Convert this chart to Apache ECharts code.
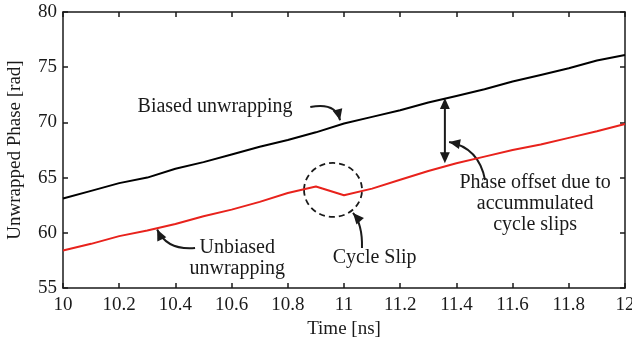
<!DOCTYPE html>
<html>
<head>
<meta charset="utf-8">
<script src="https://cdn.jsdelivr.net/npm/echarts@6/dist/echarts.min.js"></script>
<style>
  html, body { margin: 0; padding: 0; background: #fff; }
  #chart { width: 632px; height: 347px; }
</style>
</head>
<body>
<div id="chart"></div>
<script>
// time samples [ns]
const times = [10.0, 10.1, 10.2, 10.3, 10.4, 10.5, 10.6, 10.7, 10.8, 10.9, 11.0,
               11.1, 11.2, 11.3, 11.4, 11.5, 11.6, 11.7, 11.8, 11.9, 12.0];
// biased unwrapping (black)
const biased = [63.1, 63.8, 64.5, 65.0, 65.8, 66.4, 67.1, 67.8, 68.4, 69.1, 69.9,
                70.5, 71.1, 71.8, 72.4, 73.0, 73.7, 74.3, 74.9, 75.6, 76.1];
// unbiased unwrapping (red)
const unbiased = [58.4, 59.0, 59.7, 60.2, 60.8, 61.5, 62.1, 62.8, 63.6, 64.2, 63.4,
                  64.0, 64.8, 65.6, 66.3, 66.9, 67.5, 68.0, 68.6, 69.2, 69.85];

const FONT = "'Liberation Serif', 'DejaVu Serif', serif";
const INK = '#1a1a1a';

const chart = echarts.init(document.getElementById('chart'));

const tickStyle = { show: true, inside: true, length: 5, lineStyle: { color: INK, width: 1.5 } };
const lineStyle = { show: true, lineStyle: { color: INK, width: 1.5 } };

const option = {
  animation: false,
  grid: { left: 63, right: 7, top: 12, bottom: 59, outerBoundsMode: 'none', containLabel: false },
  xAxis: [
    {
      type: 'value', min: 10, max: 12, interval: 0.2,
      name: 'Time [ns]', nameLocation: 'middle', nameGap: 32,
      nameTextStyle: { fontFamily: FONT, fontSize: 19, color: INK },
      axisLine: lineStyle, axisTick: tickStyle, splitLine: { show: false },
      axisLabel: { fontFamily: FONT, fontSize: 19, color: INK, margin: 8 }
    },
    {
      type: 'value', min: 10, max: 12, interval: 0.2, position: 'top',
      axisLine: lineStyle, axisTick: tickStyle, splitLine: { show: false },
      axisLabel: { show: false }
    }
  ],
  yAxis: [
    {
      type: 'value', min: 55, max: 80, interval: 5,
      name: 'Unwrapped Phase [rad]', nameLocation: 'middle', nameGap: 38,
      nameTextStyle: { fontFamily: FONT, fontSize: 19, color: INK },
      axisLine: lineStyle, axisTick: tickStyle, splitLine: { show: false },
      axisLabel: { fontFamily: FONT, fontSize: 19, color: INK, margin: 6 }
    },
    {
      type: 'value', min: 55, max: 80, interval: 5, position: 'right',
      axisLine: lineStyle, axisTick: tickStyle, splitLine: { show: false },
      axisLabel: { show: false }
    }
  ],
  series: [
    {
      name: 'Biased', type: 'line', symbol: 'none',
      data: times.map((t, i) => [t, biased[i]]),
      lineStyle: { color: '#000', width: 2 }
    },
    {
      name: 'Unbiased', type: 'line', symbol: 'none',
      data: times.map((t, i) => [t, unbiased[i]]),
      lineStyle: { color: '#e8221c', width: 2 }
    }
  ]
};
chart.setOption(option);

// annotations, placed in data coordinates
function px(t, v) {
  return chart.convertToPixel({ xAxisIndex: 0, yAxisIndex: 0 }, [t, v]);
}

function head(tip, from, size) {
  const dx = tip[0] - from[0], dy = tip[1] - from[1];
  const len = Math.sqrt(dx * dx + dy * dy) || 1;
  const ux = dx / len, uy = dy / len;
  const bx = tip[0] - ux * size, by = tip[1] - uy * size;
  const w = size * 0.45;
  return {
    type: 'polygon',
    shape: { points: [tip, [bx - uy * w, by + ux * w], [bx + uy * w, by - ux * w]] },
    style: { fill: INK }
  };
}

function curvedArrow(a, c, b) {
  const p1 = px(a[0], a[1]), pc = px(c[0], c[1]), p2 = px(b[0], b[1]);
  return [
    {
      type: 'bezierCurve',
      shape: { x1: p1[0], y1: p1[1], x2: p2[0], y2: p2[1], cpx1: pc[0], cpy1: pc[1] },
      style: { stroke: INK, lineWidth: 2, fill: null }
    },
    head(p2, pc, 11)
  ];
}

function label(t, v, text) {
  const p = px(t, v);
  return {
    type: 'text', x: p[0], y: p[1],
    style: {
      text: text, fontFamily: FONT, fontSize: 20, fill: INK,
      align: 'center', verticalAlign: 'middle', lineHeight: 21
    }
  };
}

function drawNotes() {
  const els = [];
  els.push(label(10.541, 71.39, 'Biased unwrapping'));
  els.push(...curvedArrow([10.88, 71.39], [10.97, 71.85], [10.986, 70.2]));

  els.push(label(10.62, 57.7, 'Unbiased\nunwrapping'));
  els.push(...curvedArrow([10.47, 58.62], [10.37, 58.4], [10.335, 60.3]));

  els.push(label(11.109, 57.75, 'Cycle Slip'));
  els.push(...curvedArrow([11.064, 58.62], [11.066, 60.8], [11.032, 61.8]));

  const c = px(10.961, 63.88);
  els.push({
    type: 'ellipse', shape: { cx: c[0], cy: c[1], rx: 29, ry: 27 },
    style: { stroke: INK, lineWidth: 1.8, fill: null, lineDash: [6, 4] }
  });

  const top = px(11.359, 72.2), bot = px(11.359, 66.3);
  els.push({
    type: 'line',
    shape: { x1: top[0], y1: top[1] + 8, x2: bot[0], y2: bot[1] - 8 },
    style: { stroke: INK, lineWidth: 2 }
  });
  els.push(head(top, [top[0], top[1] + 20], 11));
  els.push(head(bot, [bot[0], bot[1] - 20], 11));

  els.push(...curvedArrow([11.502, 64.78], [11.48, 67.7], [11.374, 68.22]));
  els.push(label(11.68, 62.66, 'Phase offset due to\naccummulated\ncycle slips'));

  chart.setOption({ graphic: els });
}
drawNotes();
</script>
</body>
</html>
